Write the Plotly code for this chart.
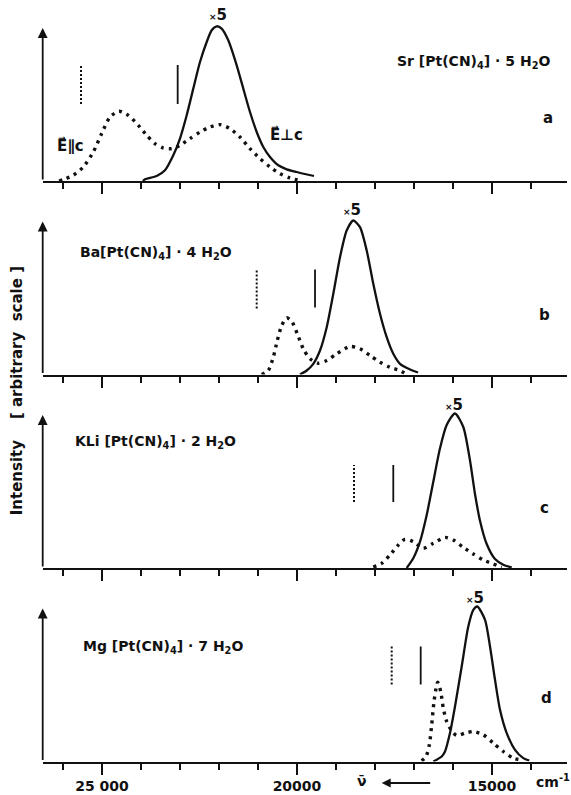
import plotly.graph_objects as go

W, H = 571, 795

# ---------------- data (wavenumber in cm^-1, intensity in arbitrary units) ----------------
# Panel a: Sr[Pt(CN)4]·5H2O
a_par_wn = [26100, 25992, 25736, 25479, 25223, 25008, 24795, 24564, 24326, 24069, 23854, 23641, 23428,
            23213, 23000, 22744, 22487, 22231, 21974, 21718, 21462, 21205, 20949, 20692, 20436, 20179, 19923]
a_par_int = [0, 1.4, 5.7, 14, 29, 47.4, 64, 69.7, 65.7, 55.7, 45.7, 37.4, 33,
             32.4, 35.7, 42.4, 49, 54, 56.4, 52.4, 44, 32.4, 22.4, 14, 7.4, 3, 0.5]
a_perp_wn = [23950, 23897, 23597, 23385, 23172, 23000, 22828, 22659, 22487, 22315, 22187, 22059, 21931,
             21762, 21546, 21377, 21205, 21033, 20864, 20692, 20479, 20264, 20008, 19800, 19564]
a_perp_int = [0, 1.7, 5, 10.7, 25.7, 42.4, 65.7, 92.4, 119, 139, 150.7, 154.7, 152.4,
              140.7, 115.7, 92.4, 69, 49, 34, 24, 15.7, 11.7, 9, 7, 5]

# Panel b: Ba[Pt(CN)4]·4H2O
b_par_wn = [20905, 20736, 20608, 20505, 20392, 20264, 20136, 19992, 19838, 19667, 19454, 19238, 18982,
            18641, 18385, 18128, 17872, 17615, 17359, 17231]
b_par_int = [0, 4, 17.3, 34, 49, 56.7, 53.3, 40.7, 25.7, 15.7, 11.3, 14, 20.7,
             28, 25.7, 19, 12.3, 7.3, 4, 1]
b_perp_wn = [19923, 19751, 19582, 19410, 19238, 19069, 18897, 18726, 18556, 18385, 18213, 18044, 17872,
             17700, 17531, 17359, 17100, 16897]
b_perp_int = [0, 4, 10.7, 24, 47.3, 80.7, 117.3, 144, 154, 147.3, 124, 90.7, 60.7,
              37.3, 20.7, 10.7, 5, 2]

# Panel c: KLi[Pt(CN)4]·2H2O
c_par_wn = [18044, 17828, 17615, 17402, 17231, 17018, 16762, 16505, 16205, 15992, 15736, 15479, 15223, 14967, 14751]
c_par_int = [1, 4.7, 13, 23, 28.7, 26.3, 19.7, 24.7, 30.6, 28, 20.6, 14, 8, 4, 0.6]
c_perp_wn = [17187, 17018, 16846, 16674, 16505, 16333, 16162, 15949, 15736, 15564, 15436, 15308, 15136,
             14923, 14710, 14495]
c_perp_int = [0, 9.7, 26.3, 53, 86.3, 119.7, 143, 154.5, 141, 107.5, 74, 47.3, 24,
              9, 3.3, 0.6]

# Panel d: Mg[Pt(CN)4]·7H2O
d_par_wn = [16803, 16692, 16607, 16546, 16487, 16418, 16392, 16315, 16249, 16162, 16033, 15905, 15692,
            15479, 15223, 14967, 14710, 14454, 14197]
d_par_int = [0.7, 5, 16.7, 36.7, 60, 76.7, 79.4, 70, 53.4, 40, 30.7, 26, 28.4,
             30, 26.7, 18.4, 10, 3.4, 1]
d_perp_wn = [16505, 16290, 16205, 16077, 15949, 15777, 15608, 15479, 15377, 15179, 15051, 14923, 14795,
             14623, 14410, 14197, 14044]
d_perp_int = [0, 5, 10, 28.4, 55, 95, 135, 151.7, 155, 141.7, 115, 81.7, 51.7,
              28.4, 11.7, 3.4, 1]

# vertical marker bars (position, lower, upper)
markers_par = [(25538, 77, 116), (21033, 66, 104), (18538, 66, 103), (17572, 77, 115)]
markers_perp = [(23059, 77, 116), (19538, 67, 105), (17531, 66, 103), (16828, 77, 115)]

compounds = ["Sr [Pt(CN)<sub>4</sub>] · 5 H<sub>2</sub>O",
             "Ba[Pt(CN)<sub>4</sub>] · 4 H<sub>2</sub>O",
             "KLi [Pt(CN)<sub>4</sub>] · 2 H<sub>2</sub>O",
             "Mg [Pt(CN)<sub>4</sub>] · 7 H<sub>2</sub>O"]
panel_letters = ["a", "b", "c", "d"]
major_ticks = [25000, 20000, 15000]
major_labels = ["25 000", "20000", "15000"]
minor_ticks = [26000, 24000, 23000, 22000, 21000, 19000, 18000, 17000, 16000, 14000]

par_series = [(a_par_wn, a_par_int), (b_par_wn, b_par_int), (c_par_wn, c_par_int), (d_par_wn, d_par_int)]
perp_series = [(a_perp_wn, a_perp_int), (b_perp_wn, b_perp_int), (c_perp_wn, c_perp_int), (d_perp_wn, d_perp_int)]

# ---------------- layout geometry (pixels) ----------------
baselines = [181, 374.5, 568, 761.5]
ax_left, ax_right = 42.7, 567
x_range = [26520, 13077]
panel_h = 175
arrow_top = 153


def px(x):
    return x / W


def py(y):
    return 1 - y / H


FONT = "DejaVu Sans"
INK = "#111111"

fig = go.Figure()
layout = dict(width=W, height=H, margin=dict(l=0, r=0, t=0, b=0),
              paper_bgcolor="white", plot_bgcolor="white", showlegend=False)
annotations = []

for i in range(4):
    n = i + 1
    xa = "x" if n == 1 else f"x{n}"
    ya = "y" if n == 1 else f"y{n}"
    b = baselines[i]
    layout["xaxis" if n == 1 else f"xaxis{n}"] = dict(
        domain=[px(ax_left), px(ax_right)], range=x_range, anchor=ya,
        showline=True, linecolor=INK, linewidth=2, showgrid=False, zeroline=False,
        ticks="outside", tickvals=major_ticks, ticktext=major_labels,
        ticklen=11, tickwidth=1.5, tickcolor=INK,
        showticklabels=(n == 4), tickfont=dict(family=FONT, size=14, color=INK, weight="bold"),
        minor=dict(tickvals=minor_ticks, ticks="outside", ticklen=6, tickwidth=1.5, tickcolor=INK, showgrid=False),
    )
    layout["yaxis" if n == 1 else f"yaxis{n}"] = dict(
        domain=[py(b), py(b - panel_h)], range=[0, panel_h], anchor=xa, visible=False)

    pw, pi = par_series[i]
    fig.add_trace(go.Scatter(x=pw, y=pi, xaxis=xa, yaxis=ya, mode="lines",
                             line=dict(color=INK, width=3.4, dash="3px,5px", shape="spline", smoothing=0.7),
                             hoverinfo="skip"))
    sw, si = perp_series[i]
    fig.add_trace(go.Scatter(x=sw, y=si, xaxis=xa, yaxis=ya, mode="lines",
                             line=dict(color=INK, width=2.3, shape="spline", smoothing=0.7),
                             hoverinfo="skip"))
    mx, m0, m1 = markers_par[i]
    fig.add_trace(go.Scatter(x=[mx, mx], y=[m0, m1], xaxis=xa, yaxis=ya, mode="lines",
                             line=dict(color=INK, width=2, dash="2px,2px"), hoverinfo="skip"))
    mx, m0, m1 = markers_perp[i]
    fig.add_trace(go.Scatter(x=[mx, mx], y=[m0, m1], xaxis=xa, yaxis=ya, mode="lines",
                             line=dict(color=INK, width=1.8), hoverinfo="skip"))

    # y axis with arrow head
    annotations.append(dict(xref=xa, yref=ya, axref=xa, ayref=ya, x=x_range[0], y=arrow_top,
                            ax=x_range[0], ay=0, showarrow=True, arrowhead=2, arrowsize=1.1,
                            arrowwidth=1.8, arrowcolor=INK, text=""))

label_font = dict(family=FONT, size=14, color=INK, weight="bold")
letter_font = dict(family=FONT, size=15, color=INK, weight="bold")
x5_font = dict(family=FONT, size=15, color=INK, weight="bold")

formula_pos = [(473, 62), (156, 253), (155, 442), (163, 647)]
letter_pos = [(547.5, 118), (544, 315), (544, 508), (546, 698)]
x5_pos = [(218, 15), (352, 210), (454, 405), (475, 598)]
for i in range(4):
    fx, fy = formula_pos[i]
    annotations.append(dict(xref="paper", yref="paper", x=px(fx), y=py(fy), text=compounds[i],
                            showarrow=False, font=label_font, xanchor="center", yanchor="middle"))
    lx, ly = letter_pos[i]
    annotations.append(dict(xref="paper", yref="paper", x=px(lx), y=py(ly), text=panel_letters[i],
                            showarrow=False, font=letter_font, xanchor="center", yanchor="middle"))
    qx, qy = x5_pos[i]
    annotations.append(dict(xref="paper", yref="paper", x=px(qx), y=py(qy),
                            text="<span style='font-size:9px'>×</span>5",
                            showarrow=False, font=x5_font, xanchor="center", yanchor="middle"))

annotations += [
    dict(xref="paper", yref="paper", x=px(70), y=py(146), text="E\u20d7\u2225c", showarrow=False,
         font=dict(family=FONT, size=15, color=INK, weight="bold"), xanchor="center", yanchor="middle"),
    dict(xref="paper", yref="paper", x=px(286), y=py(135), text="E\u20d7\u22a5c", showarrow=False,
         font=dict(family=FONT, size=15, color=INK, weight="bold"), xanchor="center", yanchor="middle"),
    dict(xref="paper", yref="paper", x=px(17.3), y=py(391), text="Intensity    [ arbitrary  scale ]",
         textangle=-90, showarrow=False, font=dict(family=FONT, size=15, color=INK, weight="bold"),
         xanchor="center", yanchor="middle"),
    dict(xref="paper", yref="paper", x=px(362), y=py(781), text="\u03bd\u0304", showarrow=False,
         font=dict(family=FONT, size=14, color=INK, weight="bold"), xanchor="center", yanchor="middle"),
    dict(xref="paper", yref="paper", x=px(381.7), y=py(783), ax=50, ay=0, text="", showarrow=True,
         arrowhead=2, arrowsize=1, arrowwidth=1.8, arrowcolor=INK),
    dict(xref="paper", yref="paper", x=px(553), y=py(781), text="cm<sup>-1</sup>", showarrow=False,
         font=dict(family=FONT, size=14, color=INK, weight="bold"), xanchor="center", yanchor="middle"),
]

layout["annotations"] = annotations
fig.update_layout(**layout)
fig.write_html("out.html")
